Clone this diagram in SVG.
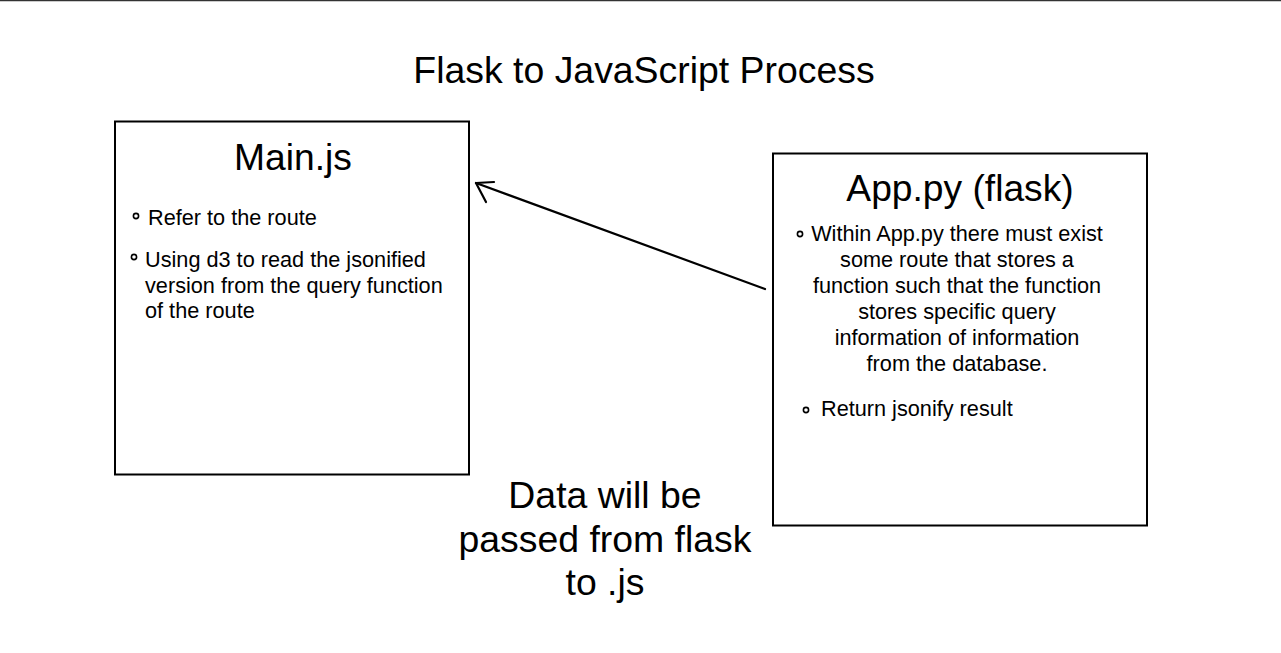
<svg xmlns="http://www.w3.org/2000/svg" width="1281" height="653" viewBox="0 0 1281 653">
<style>
text{font-family:"Liberation Sans",Arial,sans-serif;fill:#000}
.box{fill:#fff;stroke:#000;stroke-width:2}
.title{font-size:37.4px;text-anchor:middle}
.head{font-size:37.2px;text-anchor:middle}
.body{font-size:21.7px}
.mid{text-anchor:middle}
.dot{fill:none;stroke:#000;stroke-width:1.6}
.conn{fill:none;stroke:#000;stroke-width:2.2;stroke-linecap:round;stroke-linejoin:round}
</style>
<rect x="0" y="0" width="1281" height="653" fill="#fff"/>
<line x1="0" y1="0.5" x2="1281" y2="0.5" stroke="#333" stroke-width="1.5"/>
<g id="title"><text class="title" x="644" y="83">Flask to JavaScript Process</text></g>
<g id="main-js">
<rect class="box" x="115" y="121.5" width="354" height="353"/>
<text class="head" x="293" y="170">Main.js</text>
<circle class="dot" cx="136" cy="216" r="2.6"/>
<text class="body" x="148" y="225">Refer to the route</text>
<circle class="dot" cx="134" cy="257" r="2.6"/>
<text class="body" x="145" y="267">Using d3 to read the jsonified</text>
<text class="body" x="145" y="293">version from the query function</text>
<text class="body" x="145" y="318">of the route</text>
</g>
<g id="app-py">
<rect class="box" x="773" y="153.5" width="374" height="372"/>
<text class="head" x="960" y="201">App.py (flask)</text>
<circle class="dot" cx="800" cy="234" r="2.6"/>
<text class="body mid" x="957" y="241">Within App.py there must exist</text>
<text class="body mid" x="957" y="267">some route that stores a</text>
<text class="body mid" x="957" y="293">function such that the function</text>
<text class="body mid" x="957" y="319">stores specific query</text>
<text class="body mid" x="957" y="345">information of information</text>
<text class="body mid" x="957" y="371">from the database.</text>
<circle class="dot" cx="806" cy="410" r="2.6"/>
<text class="body" x="821" y="416">Return jsonify result</text>
</g>
<g id="caption">
<text class="title" x="605" y="508">Data will be</text>
<text class="title" x="605" y="552">passed from flask</text>
<text class="title" x="605" y="595">to .js</text>
</g>
<g id="connectors">
<line class="conn" x1="765" y1="289" x2="476" y2="183"/>
<polyline class="conn" points="494,182 476,183 486,202"/>
</g>
</svg>
